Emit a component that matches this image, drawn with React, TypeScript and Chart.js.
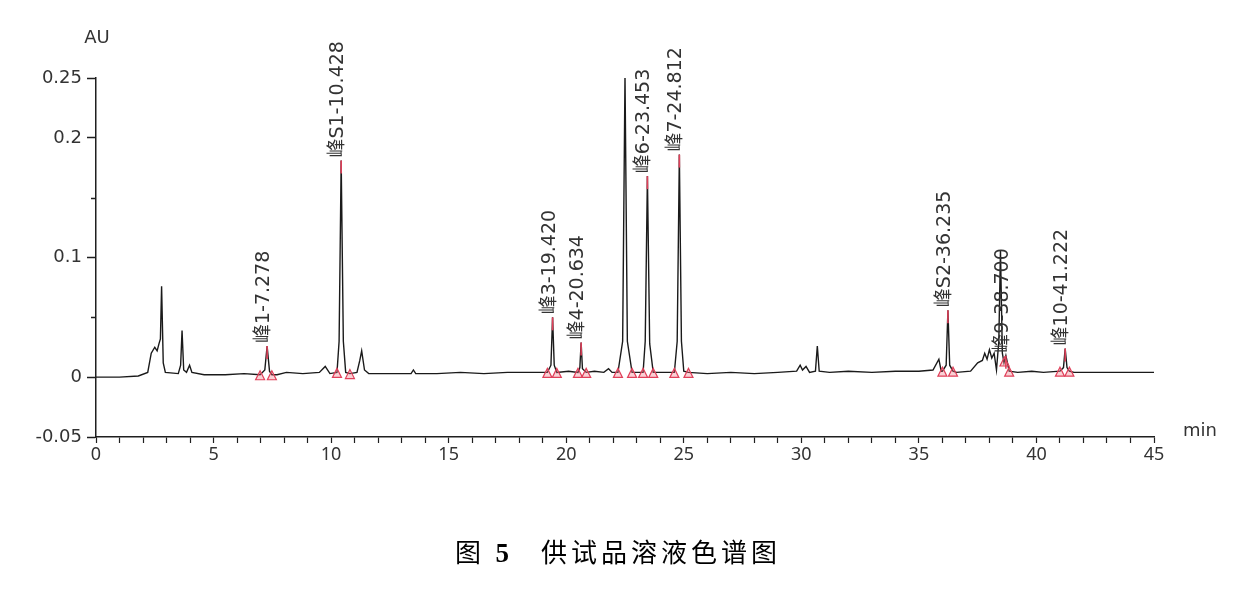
import React, { useEffect, useRef } from 'react';
import { Chart, registerables } from 'chart.js';

Chart.register(...registerables);

// Chromatogram trace: retention time (min) and absorbance (AU)
const retentionTimes = [
  0, 1.0, 1.8, 2.2, 2.35, 2.5, 2.6, 2.68, 2.74, 2.79, 2.86, 2.95, 3.5, 3.6, 3.66, 3.73, 3.85, 3.98, 4.08, 4.6,
  5.5, 6.3, 6.98, 7.18, 7.278, 7.38, 7.48, 7.7, 8.1, 8.8, 9.5, 9.75, 9.95, 10.25, 10.34, 10.428, 10.52, 10.62, 10.8, 11.1,
  11.22, 11.3, 11.42, 11.6, 12.5, 13.4, 13.5, 13.6, 14.5, 15.5, 16.5, 17.5, 18.5, 19.2, 19.35, 19.42, 19.49, 19.6, 20.1, 20.5,
  20.58, 20.634, 20.69, 20.85, 21.2, 21.6, 21.8, 21.95, 22.2, 22.4, 22.5, 22.6, 22.8, 23.27, 23.36, 23.453, 23.55, 23.7, 24.2, 24.6,
  24.72, 24.812, 24.9, 25.0, 25.2, 26, 27, 28, 29, 29.8, 29.95, 30.05, 30.2, 30.35, 30.6, 30.68, 30.76, 31.2, 32, 33,
  34, 35, 35.6, 35.85, 35.95, 36.0, 36.16, 36.235, 36.31, 36.45, 36.6, 37.2, 37.5, 37.7, 37.8, 37.9, 38.0, 38.1, 38.2, 38.3,
  38.4, 38.47, 38.55, 38.62, 38.7, 38.84, 39.2, 39.8, 40.3, 41.0, 41.15, 41.222, 41.3, 41.4, 41.6, 45,
];
const absorbance = [
  0.0, 0.0, 0.001, 0.004, 0.02, 0.025, 0.022, 0.028, 0.032, 0.076, 0.012, 0.004, 0.003, 0.01, 0.039, 0.006, 0.004, 0.01, 0.004, 0.002,
  0.002, 0.003, 0.002, 0.006, 0.026, 0.005, 0.002, 0.002, 0.004, 0.003, 0.004, 0.009, 0.003, 0.004, 0.03, 0.181, 0.03, 0.004, 0.003, 0.004,
  0.014, 0.022, 0.006, 0.003, 0.003, 0.003, 0.006, 0.003, 0.003, 0.004, 0.003, 0.004, 0.004, 0.004, 0.01, 0.05, 0.01, 0.004, 0.005, 0.004,
  0.008, 0.029, 0.007, 0.004, 0.005, 0.004, 0.007, 0.004, 0.004, 0.03, 0.252, 0.03, 0.004, 0.004, 0.03, 0.168, 0.028, 0.004, 0.004, 0.004,
  0.03, 0.186, 0.03, 0.005, 0.004, 0.003, 0.004, 0.003, 0.004, 0.005, 0.01, 0.006, 0.009, 0.004, 0.005, 0.026, 0.005, 0.004, 0.005, 0.004,
  0.005, 0.005, 0.006, 0.015, 0.005, 0.005, 0.01, 0.056, 0.01, 0.005, 0.004, 0.005, 0.012, 0.014, 0.02, 0.015, 0.023, 0.016, 0.02, 0.006,
  0.03, 0.106, 0.02, 0.012, 0.018, 0.005, 0.004, 0.005, 0.004, 0.005, 0.008, 0.024, 0.008, 0.005, 0.004, 0.004,
];

// Labelled peaks
const peakNames = ['峰1', '峰S1', '峰3', '峰4', '峰6', '峰7', '峰S2', '峰9', '峰10'];
const peakTimes = [7.278, 10.428, 19.42, 20.634, 23.453, 24.812, 36.235, 38.7, 41.222];
const peakApex = [0.026, 0.181, 0.05, 0.029, 0.168, 0.186, 0.056, 0.018, 0.024];

// Integration start / end marks
const integrationStarts = [6.98, 10.25, 19.2, 20.5, 22.2, 23.27, 24.6, 36.0, 38.64, 41.0];
const integrationEnds = [7.48, 10.8, 19.6, 20.85, 22.8, 23.7, 25.2, 36.45, 38.84, 41.4];

// Axis ticks
const yTickLabels = ['-0.05', '0', '', '0.1', '', '0.2', '0.25'];
const yTickValues = [-0.05, 0, 0.05, 0.1, 0.15, 0.2, 0.25];
const xLabelStep = 5;

const textColor = '#333333';
const axisColor = '#1f1f1f';
const markRed = '#e0405a';

function traceAt(t: number): number {
  for (let i = 1; i < retentionTimes.length; i++) {
    if (retentionTimes[i] >= t) {
      const t0 = retentionTimes[i - 1];
      const t1 = retentionTimes[i];
      const f = t1 === t0 ? 0 : (t - t0) / (t1 - t0);
      return absorbance[i - 1] + f * (absorbance[i] - absorbance[i - 1]);
    }
  }
  return absorbance[absorbance.length - 1];
}

const isMinorY = (v: number) => {
  const idx = yTickValues.findIndex((tv) => Math.abs(tv - v) < 1e-9);
  return idx >= 0 && yTickLabels[idx] === '';
};

const markersPlugin = {
  id: 'peakMarkers',
  afterDatasetsDraw(chart: any) {
    const { ctx, scales } = chart;
    const xs = scales.x;
    const ys = scales.y;
    ctx.save();

    // short minor ticks on y axis
    ctx.strokeStyle = axisColor;
    ctx.lineWidth = 1.5;
    yTickValues.forEach((v) => {
      if (!isMinorY(v)) return;
      const py = Math.round(ys.getPixelForValue(v)) + 0.5;
      ctx.beginPath();
      ctx.moveTo(xs.left - 5, py);
      ctx.lineTo(xs.left, py);
      ctx.stroke();
    });

    // integration triangles
    ctx.strokeStyle = markRed;
    ctx.fillStyle = 'rgba(240,120,135,0.35)';
    ctx.lineWidth = 1.2;
    const tri = (t: number) => {
      const px = xs.getPixelForValue(t);
      const py = ys.getPixelForValue(traceAt(t)) + 1;
      ctx.beginPath();
      ctx.moveTo(px, py - 5);
      ctx.lineTo(px - 4.5, py + 4);
      ctx.lineTo(px + 4.5, py + 4);
      ctx.closePath();
      ctx.fill();
      ctx.stroke();
    };
    integrationStarts.forEach(tri);
    integrationEnds.forEach(tri);

    // apex ticks and labels
    peakTimes.forEach((t, i) => {
      const px = xs.getPixelForValue(t);
      const py = ys.getPixelForValue(peakApex[i]);
      ctx.strokeStyle = markRed;
      ctx.lineWidth = 1.6;
      ctx.beginPath();
      ctx.moveTo(px, py);
      ctx.lineTo(px, py + 13);
      ctx.stroke();

      ctx.save();
      ctx.translate(px + 2, py - 3);
      ctx.rotate(-Math.PI / 2);
      ctx.fillStyle = textColor;
      ctx.font = '19px "DejaVu Sans", "Noto Sans CJK SC", sans-serif';
      ctx.textAlign = 'left';
      ctx.textBaseline = 'alphabetic';
      ctx.fillText(`${peakNames[i]}-${t.toFixed(3)}`, 0, 0);
      ctx.restore();
    });

    // axis units
    ctx.fillStyle = textColor;
    ctx.font = '18px "DejaVu Sans", sans-serif';
    ctx.textAlign = 'center';
    ctx.textBaseline = 'middle';
    ctx.fillText('AU', xs.left + 1, 38);
    ctx.fillText('min', xs.right + 46, ys.bottom - 6);

    ctx.restore();
  },
};

export default function App() {
  const canvasRef = useRef<HTMLCanvasElement | null>(null);

  useEffect(() => {
    if (!canvasRef.current) return;
    const points = retentionTimes.map((t, i) => ({ x: t, y: absorbance[i] }));
    const chart = new Chart(canvasRef.current, {
      type: 'line',
      data: {
        datasets: [
          {
            data: points,
            borderColor: '#1a1a1a',
            borderWidth: 1.4,
            pointRadius: 0,
            tension: 0,
            fill: false,
          },
        ],
      },
      options: {
        responsive: false,
        animation: false,
        layout: { padding: { top: 78, right: 82, bottom: 117, left: 0 } },
        plugins: {
          legend: { display: false },
          tooltip: { enabled: false },
          title: { display: false },
        },
        scales: {
          x: {
            type: 'linear',
            min: 0,
            max: 45,
            afterFit: (s: any) => {
              s.height = 40;
            },
            border: { display: true, color: axisColor, width: 1.5 },
            grid: { drawOnChartArea: false, drawTicks: true, tickLength: 6, tickColor: axisColor, tickWidth: 1.2 },
            ticks: {
              stepSize: 1,
              autoSkip: false,
              maxRotation: 0,
              padding: 1,
              color: textColor,
              font: { family: '"Noto Sans", sans-serif', size: 18 },
              callback: (v: any) => (Number(v) % xLabelStep === 0 ? String(v) : ''),
            },
          },
          y: {
            type: 'linear',
            min: -0.05,
            max: 0.25,
            afterFit: (s: any) => {
              s.width = 96;
            },
            afterBuildTicks: (s: any) => {
              s.ticks = yTickValues.map((v) => ({ value: v }));
            },
            border: { display: true, color: axisColor, width: 1.5 },
            grid: {
              drawOnChartArea: false,
              drawTicks: true,
              tickLength: 9,
              tickWidth: 1.5,
              tickColor: (c: any) => (c.tick && isMinorY(c.tick.value) ? 'rgba(0,0,0,0)' : axisColor),
            },
            ticks: {
              padding: 5,
              color: textColor,
              font: { family: '"DejaVu Sans", sans-serif', size: 18 },
              callback: (v: any) => {
                const idx = yTickValues.findIndex((tv) => Math.abs(tv - Number(v)) < 1e-9);
                return idx >= 0 ? yTickLabels[idx] : '';
              },
            },
          },
        },
      },
      plugins: [markersPlugin],
    });
    return () => chart.destroy();
  }, []);

  return (
    <div style={{ position: 'fixed', left: 0, top: 0, width: 1236, height: 594, background: '#fff' }}>
      <canvas ref={canvasRef} width={1236} height={594} style={{ width: 1236, height: 594, display: 'block' }} />
      <div
        style={{
          position: 'absolute',
          left: 455,
          top: 537,
          whiteSpace: 'pre',
          fontSize: 26,
          letterSpacing: 4,
          color: '#000',
          fontFamily: '"Liberation Serif", "Noto Sans CJK SC", serif',
          lineHeight: '32px',
        }}
      >
        <span>图 </span>
        <span style={{ fontWeight: 'bold', fontSize: 27 }}>5</span>
        <span style={{ marginLeft: 28 }}>供试品溶液色谱图</span>
      </div>
    </div>
  );
}
